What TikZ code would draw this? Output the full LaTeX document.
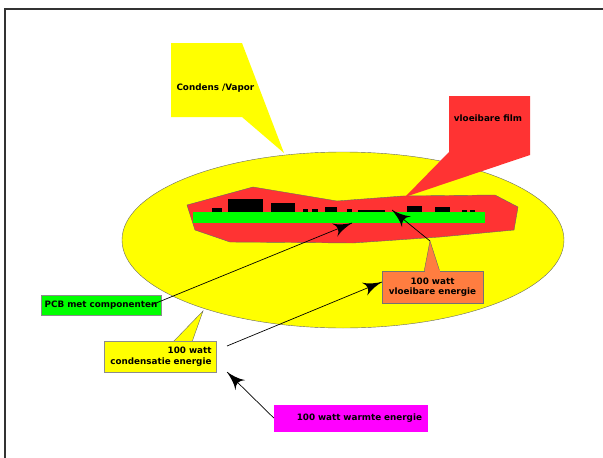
\documentclass[tikz,border=0pt]{standalone}
\usepackage{fontspec}
\setmainfont{DejaVu Sans}
\usepackage{tikz}
\usetikzlibrary{arrows}
\usetikzlibrary{decorations.markings}
\usetikzlibrary{positioning}
\definecolor{geel}{RGB}{255,255,0}
\definecolor{rood}{RGB}{255,51,51}
\definecolor{groen}{RGB}{0,255,0}
\definecolor{oranje}{RGB}{255,125,64}
\definecolor{paars}{RGB}{255,0,255}
\tikzset{pijl/.style = {decoration={markings,
                                    mark=at position 1 with {\arrow[scale=3.8]{latex'}}},
                        postaction={decorate}, line width=0.7pt}}
\tikzset{tekst/.style = {font=\fontsize{8.8}{10.5}\selectfont\bfseries}}
\tikzset{label/.style = {tekst, inner sep=0, draw=black!45, line width=0.4pt}}
\tikzset{rand/.style = {draw=black!60, line width=0.4pt}}
\tikzset{onderdeel/.style = {fill=black}}

\begin{document}
\begin{tikzpicture}[x=1pt, y=-1pt]
          \useasboundingbox (0,0) rectangle (603,458);
          \draw [line width=1.6pt, black!80] (603,9) -- (5,9) -- (5,458);
          \filldraw [fill=geel, rand] (343,240) ellipse [x radius=221pt, y radius=88pt];
          \filldraw [fill=rood, rand] (187,205) -- (253,187) -- (337,201) -- (403,196) -- (495,195)
            -- (518,207) -- (514,230) -- (440,237) -- (353,243) -- (230,242) -- (195,230) -- cycle;
          \fill [groen] (193,212) rectangle (485,223);
          \fill [onderdeel] (212,208) rectangle (222,212);
          \fill [onderdeel] (228,199) rectangle (263,212);
          \fill [onderdeel] (271,203) rectangle (295,212);
          \fill [onderdeel] (303,209) rectangle (308,212);
          \fill [onderdeel] (312,209) rectangle (318,212);
          \fill [onderdeel] (325,207) rectangle (337,212);
          \fill [onderdeel] (347,209) rectangle (352,212);
          \fill [onderdeel] (358,210) rectangle (385,212);
          \fill [onderdeel] (407,206) rectangle (422,212);
          \fill [onderdeel] (435,207) rectangle (450,212);
          \fill [onderdeel] (462,210) rectangle (467,212);
          \fill [onderdeel] (470,210) rectangle (475,212);
          \fill [geel] (171,43) -- (242,43) -- (284,153) -- (242,117) -- (171,117) -- cycle;
          \node (condens) [anchor=west, tekst] at (173,88) {Condens /Vapor};
          \fill [rood] (449,96) -- (530,96) -- (530,155) -- (405,197) -- (449,152) -- cycle;
          \node (film) [tekst] at (488,118) {vloeibare film};
          \coordinate (pcbonder) at (352,223);
          \coordinate (pcbboven) at (392,210);
          \coordinate (filmtip) at (430,241);
          \coordinate (condenspunt) at (227,346);
          \coordinate (warmtepunt) at (227,372);
          \fill [geel] (173,342) -- (203,311) -- (192,342) -- cycle;
          \draw [rand] (173,342) -- (203,311) -- (192,342);
          \node (condensatie) [label, fill=geel, minimum width=112pt, minimum height=31pt,
            text width=103pt, align=right] at (160,356.5) {100 watt\\condensatie energie};
          \node (pcb) [label, fill=groen, minimum width=120pt, minimum height=20pt] at (101,305) {PCB met componenten};
          \node (warmte) [label, fill=paars, draw=paars, minimum width=153pt, minimum height=26pt,
            text width=143pt, align=right] at (350.5,418) {100 watt warmte energie};
          \filldraw [fill=oranje, rand] (424,272) -- (430,241) -- (440,272) -- cycle;
          \node (vloeibaar) [label, fill=oranje, draw=black!55, minimum width=101pt, minimum height=32pt,
            align=center, font=\fontsize{8.8}{9.5}\selectfont\bfseries] at (432.5,287) {100 watt\\vloeibare energie};
          \fill [oranje] (424.5,270) rectangle (439.5,272);
          \draw [pijl] ([xshift=-10pt]pcb.east) -- (pcbonder);
          \draw [pijl] (condenspunt) -- ([yshift=5pt]vloeibaar.west);
          \draw [pijl] (warmte.west) -- (warmtepunt);
          \draw [pijl] (filmtip) -- (pcbboven);
        \end{tikzpicture}
\end{document}
